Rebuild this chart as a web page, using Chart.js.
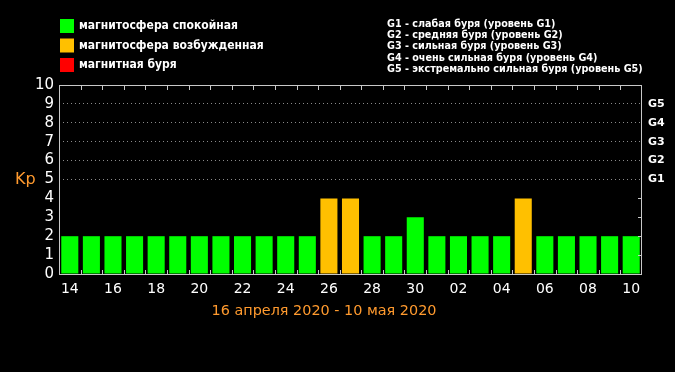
<!DOCTYPE html>
<html>
<head>
<meta charset="utf-8">
<script src="https://cdn.jsdelivr.net/npm/chart.js@4"></script>
<style>
  body { margin: 0; background: #000; }
  canvas { display: block; }
</style>
</head>
<body>
<canvas id="kpChart" width="675" height="372"></canvas>
<script>
// days from 14 April to 10 May 2020
const days = ['14', '15', '16', '17', '18', '19', '20', '21', '22', '23', '24', '25', '26', '27', '28', '29', '30',
  '01', '02', '03', '04', '05', '06', '07', '08', '09', '10'];
// Kp index per day
const kp = [2, 2, 2, 2, 2, 2, 2, 2, 2, 2, 2, 2, 4, 4, 2, 2, 3, 2, 2, 2, 2, 4, 2, 2, 2, 2, 2];
const yTicks = [0, 1, 2, 3, 4, 5, 6, 7, 8, 9, 10];
const gLevels = ['G1', 'G2', 'G3', 'G4', 'G5'];
const legendNames = ['магнитосфера спокойная', 'магнитосфера возбужденная', 'магнитная буря'];
const legendColors = ['#00ff00', '#ffc000', '#ff0000'];
const gNotes = [
  'G1 - слабая буря (уровень G1)',
  'G2 - средняя буря (уровень G2)',
  'G3 - сильная буря (уровень G3)',
  'G4 - очень сильная буря (уровень G4)',
  'G5 - экстремально сильная буря (уровень G5)'
];
const periodText = '16 апреля 2020 - 10 мая 2020';

function barColor(v) {
  if (v >= 5) return legendColors[2];
  if (v >= 4) return legendColors[1];
  return legendColors[0];
}

// frame, small ticks and all the extra text
const decorPlugin = {
  id: 'decor',
  afterDraw(chart) {
    const ctx = chart.ctx;
    const a = chart.chartArea;
    const x = chart.scales.x;
    const y = chart.scales.y;
    ctx.save();
    ctx.strokeStyle = '#c8c8c8';
    ctx.lineWidth = 1;
    ctx.strokeRect(a.left + 0.5, a.top + 0.5, a.right - a.left - 1, a.bottom - a.top);

    // boundary ticks top and bottom
    ctx.beginPath();
    for (let i = 1; i < days.length; i++) {
      const px = Math.round((x.getPixelForTick(i - 1) + x.getPixelForTick(i)) / 2) + 0.5;
      ctx.moveTo(px, a.top); ctx.lineTo(px, a.top + 5);
      ctx.moveTo(px, a.bottom); ctx.lineTo(px, a.bottom - 4);
    }
    // right side ticks for 1..4
    for (let v = 1; v <= 4; v++) {
      const py = Math.round(y.getPixelForValue(v)) + 0.5;
      ctx.moveTo(a.right - 4, py); ctx.lineTo(a.right, py);
    }
    ctx.stroke();

    // legend
    ctx.textBaseline = 'middle';
    ctx.textAlign = 'left';
    ctx.font = 'bold 12px "DejaVu Sans Condensed"';
    legendNames.forEach((name, i) => {
      const ty = 26 + i * 19.5;
      ctx.fillStyle = legendColors[i];
      ctx.fillRect(60, ty - 7, 14, 14);
      ctx.fillStyle = '#ffffff';
      ctx.fillText(name, 79, ty);
    });

    ctx.font = 'bold 10.7px "DejaVu Sans Condensed"';
    gNotes.forEach((t, i) => {
      ctx.fillText(t, 387, 24 + i * 11.3);
    });

    // Kp label
    ctx.fillStyle = '#ff9a2e';
    ctx.font = '16px "DejaVu Sans"';
    ctx.fillText('Kp', 15, y.getPixelForValue(5));

    // period
    ctx.textAlign = 'center';
    ctx.font = '14.4px "DejaVu Sans"';
    ctx.fillText(periodText, 324, 311);
    ctx.restore();
  }
};

const chartCtx = document.getElementById('kpChart').getContext('2d');
const kpChart = new Chart(chartCtx, {
  type: 'bar',
  data: {
    labels: days,
    datasets: [{
      label: 'Kp',
      data: kp,
      backgroundColor: kp.map(barColor),
      borderWidth: 0,
      barPercentage: 0.79,
      categoryPercentage: 1.0
    }]
  },
  options: {
    responsive: false,
    animation: false,
    devicePixelRatio: 1,
    layout: { padding: { top: 85, left: 0, right: 0, bottom: 0 } },
    plugins: {
      legend: { display: false },
      tooltip: { enabled: false }
    },
    scales: {
      x: {
        grid: { display: false, drawTicks: false },
        border: { display: false },
        ticks: {
          color: '#ffffff',
          font: { family: 'DejaVu Sans', size: 14 },
          padding: 7,
          autoSkip: false,
          maxRotation: 0,
          callback: (val, i) => (i % 2 === 0 ? days[i] : '')
        },
        afterFit: (scale) => { scale.height = 98; }
      },
      y: {
        min: 0,
        max: 10,
        afterBuildTicks: (scale) => { scale.ticks = yTicks.map(v => ({ value: v })); },
        grid: {
          drawTicks: false,
          color: (c) => (c.tick && c.tick.value >= 5 && c.tick.value <= 9 ? '#8a8a8a' : 'transparent'),
          lineWidth: 1
        },
        border: { display: false, dash: [1, 3] },
        ticks: {
          color: '#ffffff',
          font: { family: 'DejaVu Sans', size: 15 },
          padding: 5,
          autoSkip: false
        },
        afterFit: (scale) => { scale.width = 59; }
      },
      y2: {
        position: 'right',
        min: 0,
        max: 10,
        afterBuildTicks: (scale) => { scale.ticks = yTicks.map(v => ({ value: v })); },
        grid: { display: false, drawTicks: false },
        border: { display: false },
        ticks: {
          color: '#ffffff',
          font: { family: 'DejaVu Sans', size: 11, weight: 'bold' },
          padding: 6,
          autoSkip: false,
          callback: (v) => (v >= 5 && v <= 9 ? gLevels[v - 5] : '')
        },
        afterFit: (scale) => { scale.width = 33; }
      }
    }
  },
  plugins: [decorPlugin]
});
</script>
</body>
</html>
